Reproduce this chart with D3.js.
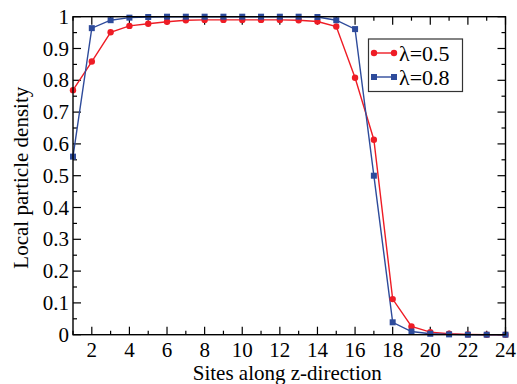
<!DOCTYPE html>
<html><head><meta charset="utf-8">
<script src="https://cdn.jsdelivr.net/npm/d3@7"></script>
</head><body style="margin:0">
<svg id="c" width="517" height="384"></svg>
<script>
const sites = d3.range(1, 25);
const seriesNames = ["λ=0.5", "λ=0.8"];
const rhoA = [0.769,0.859,0.951,0.971,0.978,0.984,0.989,0.99,0.99,0.99,0.99,0.99,0.989,0.985,0.969,0.808,0.613,0.112,0.026,0.008,0.003,0.001,0.0,0.0];
const rhoB = [0.56,0.964,0.989,0.997,0.999,1.0,1.0,1.0,1.0,1.0,1.0,1.0,1.0,0.999,0.989,0.961,0.5,0.039,0.01,0.003,0.001,0.0,0.0,0.0];
const xTicks = d3.range(2, 25, 2);
const yTicks = d3.range(0, 11).map(d => d / 10);
const colors = ["#ee1c25", "#2e4b9b"];
const FF = '"Times New Roman"';

const svg = d3.select("#c");
const L = 73, R = 505.5, T = 16.7, B = 334.7;
const x = d3.scaleLinear().domain([1, 24]).range([L, R]);
const y = d3.scaleLinear().domain([0, 1]).range([B, T]);

const g = svg.append("g");
const xMinor = d3.range(1, 25, 2);
const yMinor = d3.range(0, 10).map(d => d / 10 + 0.05);
const tk = g.append("g").attr("stroke", "#000").attr("stroke-width", 1.2);
xTicks.forEach(v => {
  tk.append("line").attr("x1", x(v)).attr("x2", x(v)).attr("y1", B).attr("y2", B - 8);
  tk.append("line").attr("x1", x(v)).attr("x2", x(v)).attr("y1", T).attr("y2", T + 8);
});
xMinor.forEach(v => {
  tk.append("line").attr("x1", x(v)).attr("x2", x(v)).attr("y1", B).attr("y2", B - 4);
  tk.append("line").attr("x1", x(v)).attr("x2", x(v)).attr("y1", T).attr("y2", T + 4);
});
yTicks.forEach(v => {
  tk.append("line").attr("x1", L).attr("x2", L + 8).attr("y1", y(v)).attr("y2", y(v));
  tk.append("line").attr("x1", R).attr("x2", R - 8).attr("y1", y(v)).attr("y2", y(v));
});
yMinor.forEach(v => {
  tk.append("line").attr("x1", L).attr("x2", L + 4).attr("y1", y(v)).attr("y2", y(v));
  tk.append("line").attr("x1", R).attr("x2", R - 4).attr("y1", y(v)).attr("y2", y(v));
});

g.append("g").selectAll("text").data(xTicks).join("text")
  .style("font-family", FF).attr("font-size", 21)
  .attr("x", d => x(d)).attr("y", B + 22).attr("text-anchor", "middle")
  .text(d => String(d));
g.append("g").selectAll("text").data(yTicks).join("text")
  .style("font-family", FF).attr("font-size", 21)
  .attr("x", L - 4).attr("y", d => y(d) + 7).attr("text-anchor", "end")
  .text(d => d === 0 ? "0" : d === 1 ? "1" : d3.format(".1f")(d));

svg.append("text").style("font-family", FF).attr("font-size", 21)
  .attr("x", (L + R) / 2 - 2).attr("y", 380).attr("text-anchor", "middle")
  .text("Sites along z-direction");
svg.append("text").style("font-family", FF).attr("font-size", 21)
  .attr("transform", `translate(28,${(T + B) / 2 + 2}) rotate(-90)`)
  .attr("text-anchor", "middle").text("Local particle density");

const line = d3.line().x((d, i) => x(sites[i])).y(d => y(d));
[rhoA, rhoB].forEach((data, k) => {
  svg.append("path").datum(data).attr("fill", "none").attr("stroke", colors[k])
    .attr("stroke-width", 1.4).attr("d", line);
});
svg.append("g").selectAll("circle").data(rhoA).join("circle")
  .attr("cx", (d, i) => x(sites[i])).attr("cy", d => y(d)).attr("r", 3.2).attr("fill", colors[0]);
svg.append("g").selectAll("rect").data(rhoB).join("rect")
  .attr("x", (d, i) => x(sites[i]) - 3).attr("y", d => y(d) - 3).attr("width", 6).attr("height", 6).attr("fill", colors[1]);

svg.append("rect").attr("x", L).attr("y", T).attr("width", R - L).attr("height", B - T)
  .attr("fill", "none").attr("stroke", "#000").attr("stroke-width", 1.4);

const lg = svg.append("g");
lg.append("rect").attr("x", 368.5).attr("y", 39).attr("width", 94).attr("height", 52.5)
  .attr("fill", "#fff").attr("stroke", "#333").attr("stroke-width", 1.2);
seriesNames.forEach((name, k) => {
  const yy = 39 + 14 + k * 24;
  lg.append("line").attr("x1", 374).attr("x2", 394).attr("y1", yy).attr("y2", yy)
    .attr("stroke", colors[k]).attr("stroke-width", 1.4);
  if (k === 0) {
    [374, 394].forEach(cx => lg.append("circle").attr("cx", cx).attr("cy", yy).attr("r", 3.2).attr("fill", colors[0]));
  } else {
    [374, 394].forEach(cx => lg.append("rect").attr("x", cx - 3).attr("y", yy - 3).attr("width", 6).attr("height", 6).attr("fill", colors[1]));
  }
  lg.append("text").style("font-family", FF).attr("font-size", 22)
    .attr("x", 399).attr("y", yy + 7.5).text(name);
});
</script></body></html>
